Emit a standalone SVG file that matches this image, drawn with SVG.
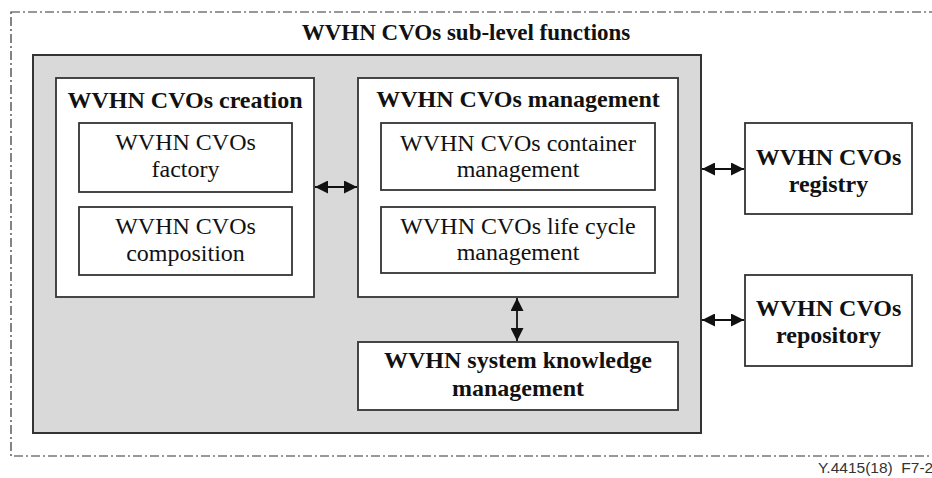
<svg xmlns="http://www.w3.org/2000/svg" width="932" height="478" viewBox="0 0 932 478">
  <style>
    .frame { fill: none; stroke: #333; stroke-width: 1.2; stroke-dasharray: 9 3 2 3; }
    .panel { fill: #d9d9d9; stroke: #333; stroke-width: 2; }
    .box { fill: #fff; stroke: #333; stroke-width: 1.8; }
    .t { font-family: "Liberation Serif", "Times New Roman", serif; font-size: 24px; fill: #111; text-anchor: middle; }
    .b { font-weight: bold; }
    .wire { stroke: #111; stroke-width: 1.8; fill: none; marker-start: url(#ah); marker-end: url(#ah); }
    .ref { font-family: "Liberation Sans", Arial, sans-serif; font-size: 15.5px; fill: #333; white-space: pre; }
  </style>
  <defs>
    <marker id="ah" viewBox="0 0 10 10" refX="10" refY="5" markerWidth="13" markerHeight="13" markerUnits="userSpaceOnUse" orient="auto-start-reverse">
      <path d="M0,0 L10,5 L0,10 z" fill="#111"/>
    </marker>
  </defs>

  <!-- outer boundary and heading -->
  <rect class="frame" x="11" y="12" width="940" height="444"/>
  <text class="t b" x="466" y="40" style="font-size:23px">WVHN CVOs sub-level functions</text>

  <rect class="panel" x="33" y="55" width="668" height="378"/>

  <g id="creation">
    <rect class="box" x="56" y="78" width="258" height="219"/>
    <text class="t b" x="185" y="108">WVHN CVOs creation</text>
  </g>
  <g id="factory">
    <rect class="box" x="79" y="123" width="213" height="69"/>
    <text class="t" x="185.5" y="150">WVHN CVOs</text>
    <text class="t" x="185.5" y="177">factory</text>
  </g>
  <g id="composition">
    <rect class="box" x="79" y="207" width="213" height="68"/>
    <text class="t" x="185.5" y="234">WVHN CVOs</text>
    <text class="t" x="185.5" y="261">composition</text>
  </g>

  <g id="management">
    <rect class="box" x="358" y="78" width="320" height="219"/>
    <text class="t b" x="518" y="107">WVHN CVOs management</text>
  </g>
  <g id="container">
    <rect class="box" x="381" y="123" width="274" height="67"/>
    <text class="t" x="518" y="151">WVHN CVOs container</text>
    <text class="t" x="518" y="177">management</text>
  </g>
  <g id="lifecycle">
    <rect class="box" x="381" y="207" width="274" height="66"/>
    <text class="t" x="518" y="234">WVHN CVOs life cycle</text>
    <text class="t" x="518" y="260">management</text>
  </g>

  <g id="knowledge">
    <rect class="box" x="358" y="342" width="320" height="68"/>
    <text class="t b" x="518" y="368">WVHN system knowledge</text>
    <text class="t b" x="518" y="396">management</text>
  </g>

  <g id="registry">
    <rect class="box" x="745" y="123" width="167" height="91"/>
    <text class="t b" x="828.5" y="165">WVHN CVOs</text>
    <text class="t b" x="828.5" y="192">registry</text>
  </g>
  <g id="repository">
    <rect class="box" x="745" y="275" width="167" height="91"/>
    <text class="t b" x="828.5" y="316">WVHN CVOs</text>
    <text class="t b" x="828.5" y="343">repository</text>
  </g>

  <g id="connectors">
    <line class="wire" x1="315" y1="187" x2="357" y2="187"/>
    <line class="wire" x1="517" y1="298" x2="517" y2="341"/>
    <line class="wire" x1="702" y1="169" x2="744" y2="169"/>
    <line class="wire" x1="702" y1="320" x2="744" y2="320"/>
  </g>

  <text class="ref" x="818" y="473" xml:space="preserve">Y.4415(18)  F7-2</text>
</svg>
